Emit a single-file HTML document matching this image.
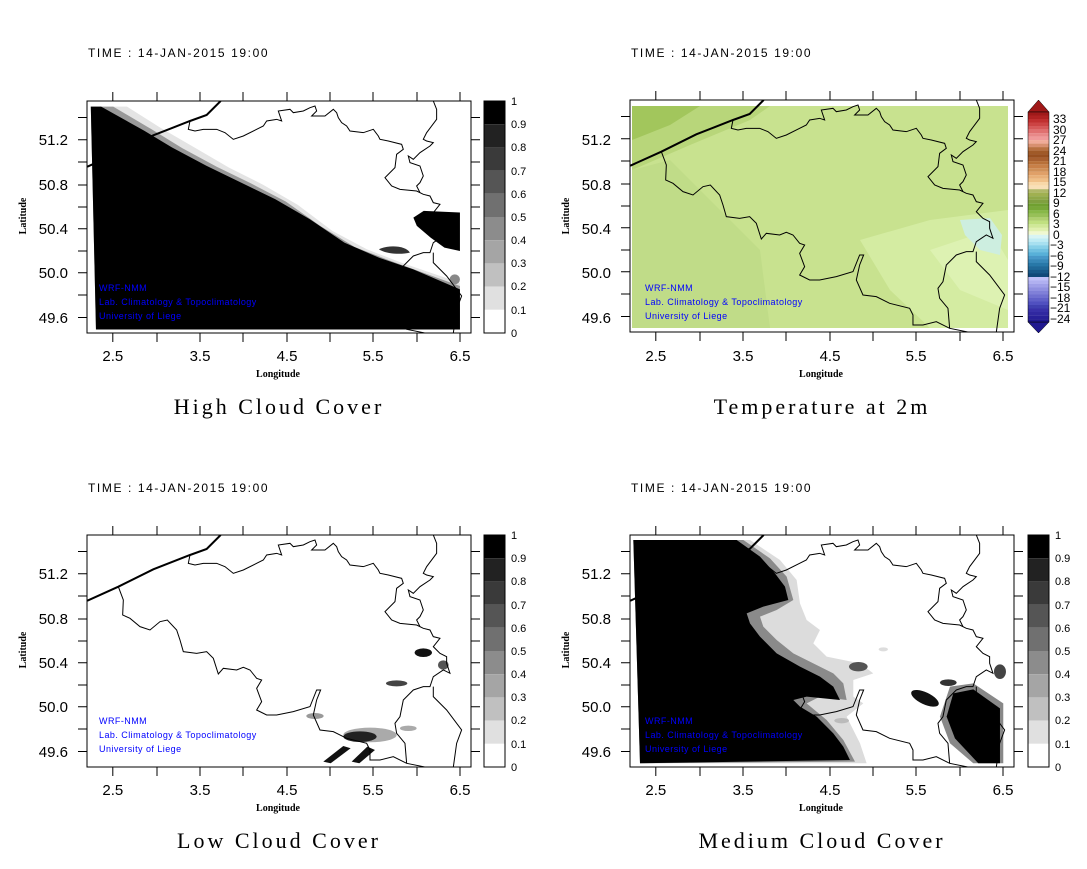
<!DOCTYPE html>
<html><head><meta charset="utf-8"><style>
html,body{margin:0;padding:0;background:#fff;width:1087px;height:869px;overflow:hidden}
svg{display:block}
.t{font-family:"Liberation Sans",sans-serif;font-size:12px;fill:#000;letter-spacing:1.6px}
.tk{font-family:"Liberation Sans",sans-serif;font-size:15px;fill:#000}
.ax{font-family:"Liberation Serif",serif;font-size:10px;font-weight:bold;fill:#000}
.ti{font-family:"Liberation Serif",serif;font-size:22px;fill:#000;letter-spacing:3px}
.bl{font-family:"Liberation Sans",sans-serif;font-size:9px;fill:#0000ff;letter-spacing:0.45px}
.cb{font-family:"Liberation Sans",sans-serif;font-size:11px;fill:#000}
.b{fill:none;stroke:#000;stroke-width:1;vector-effect:non-scaling-stroke}
.c{fill:none;stroke:#000;stroke-width:2;vector-effect:non-scaling-stroke}
</style></head><body>
<svg width="1087" height="869" viewBox="0 0 1087 869" xmlns="http://www.w3.org/2000/svg">
<defs>
<clipPath id="box"><rect x="0" y="0" width="384" height="232"/></clipPath>
<g id="borders">
<g transform="translate(-7,-5) scale(0.3333)">
<path class="c" d="M22,212 L115,170 L220,118 L330,75 L380,57 L422,15"/>
<path class="b" d="M115,170 L130,210 L128,255 L150,265 L180,290 L210,300 L240,275 L262,270 L290,300 L300,330 L310,365 L350,370 L380,365 L400,385 L415,432 L430,415 L470,420 L490,412 L510,420 L530,445 L545,450 L530,475 L545,515 L530,540 L560,555 L590,555 L640,545 L690,530 L710,480 L722,480 L710,510 L700,555 L720,600 L760,605 L800,625 L860,640 L870,660 L870,690 L900,690 L940,680 L980,700 L1040,712"/>
<path class="b" d="M330,75 L325,100 L345,105 L370,100 L410,100 L435,110 L460,130 L490,120 L530,100 L550,90 L560,75 L590,70 L605,75 L595,45 L630,40 L640,50 L670,45 L690,35 L705,30 L710,45 L695,60 L735,60 L760,40 L770,50 L775,65 L785,80 L800,90 L810,105 L850,110 L880,100 L895,120 L900,130 L925,135 L965,145 L970,160 L950,175 L945,215 L920,240 L915,245 L935,270 L960,280 L1010,285 L1030,295 L1050,300 L1060,320 L1080,325 L1060,350 L1080,370 L1100,380 L1100,400 L1110,430 L1090,420 L1060,440 L1050,470 L1030,470 L1000,480 L970,510 L960,560 L945,580 L950,610 L975,640 L980,700"/>
<path class="b" d="M1060,470 L1060,500 L1100,540 L1145,600 L1130,640 L1120,712"/>
<path class="b" d="M1020,290 L1010,270 L1020,260 L1030,240 L1020,210 L990,200 L985,180 L1000,190 L1020,170 L1050,150 L1060,140 L1040,135 L1030,130 L1040,110 L1070,70 L1070,40 L1060,15"/>
</g></g>
<g id="axes">
<rect x="0" y="0" width="384" height="232" fill="none" stroke="#000" stroke-width="1"/>
<path stroke="#000" stroke-width="1" d="M-9,16.5H0M-9,38.7H0M-9,61H0M-9,84H0M-9,106H0M-9,127.8H0M-9,150H0M-9,171.8H0M-9,194H0M-9,216.5H0
M384,16.5H393M384,38.7H393M384,61H393M384,84H393M384,106H393M384,127.8H393M384,150H393M384,171.8H393M384,194H393M384,216.5H393
M25.8,-9V0M70,-9V0M113,-9V0M156,-9V0M200,-9V0M243,-9V0M286,-9V0M330,-9V0M373,-9V0
M25.8,232V241M70,232V241M113,232V241M156,232V241M200,232V241M243,232V241M286,232V241M330,232V241M373,232V241"/>
</g>
<g id="gbar">
<rect x="397" y="0" width="21" height="23.2" fill="#000"/>
<rect x="397" y="23.2" width="21" height="23.2" fill="#222"/>
<rect x="397" y="46.4" width="21" height="23.2" fill="#3a3a3a"/>
<rect x="397" y="69.6" width="21" height="23.2" fill="#555"/>
<rect x="397" y="92.8" width="21" height="23.2" fill="#707070"/>
<rect x="397" y="116" width="21" height="23.2" fill="#8c8c8c"/>
<rect x="397" y="139.2" width="21" height="23.2" fill="#a5a5a5"/>
<rect x="397" y="162.4" width="21" height="23.2" fill="#c0c0c0"/>
<rect x="397" y="185.6" width="21" height="23.2" fill="#e0e0e0"/>
<rect x="397" y="208.8" width="21" height="23.2" fill="#fff"/>
<rect x="397" y="0" width="21" height="232" fill="none" stroke="#000"/>
</g>
</defs>

<!-- PANEL 1 -->
<g transform="translate(87,101)">
<g clip-path="url(#box)">
<g transform="scale(0.345,0.334) translate(-254,-211)">
<path fill="#e4e4e4" d="M265,228 L370,228 L465,290 L565,350 L665,410 L765,462 L865,522 L965,600 L1065,655 L1165,695 L1335,755 L1335,895 L280,895 Z"/>
<path fill="#999" d="M265,228 L330,228 L440,295 L530,352 L630,408 L730,458 L830,512 L930,585 L1030,648 L1130,688 L1335,765 L1335,895 L280,895 Z"/>
<path fill="#000" d="M265,228 L295,228 L420,300 L500,350 L600,405 L700,455 L800,505 L900,565 L1000,635 L1100,680 L1200,715 L1335,775 L1335,895 L280,895 Z"/>
<path fill="#000" d="M1200,560 L1230,540 L1335,545 L1335,660 L1290,650 L1250,620 L1210,585 Z"/>
<path fill="#333" d="M1100,655 C1130,640 1180,645 1190,665 C1160,672 1120,668 1100,655 Z"/>
<ellipse cx="1320" cy="745" rx="15" ry="15" fill="#888"/>
</g>
<use href="#borders"/>
</g>
<use href="#axes"/>
<use href="#gbar"/>
<text class="t" x="1" y="-44">TIME : 14-JAN-2015 19:00</text>
<text class="tk" x="-19" y="44" text-anchor="end">51.2</text>
<text class="tk" x="-19" y="89" text-anchor="end">50.8</text>
<text class="tk" x="-19" y="133" text-anchor="end">50.4</text>
<text class="tk" x="-19" y="177" text-anchor="end">50.0</text>
<text class="tk" x="-19" y="222" text-anchor="end">49.6</text>
<text class="tk" x="25.8" y="260" text-anchor="middle">2.5</text>
<text class="tk" x="113" y="260" text-anchor="middle">3.5</text>
<text class="tk" x="200" y="260" text-anchor="middle">4.5</text>
<text class="tk" x="286" y="260" text-anchor="middle">5.5</text>
<text class="tk" x="373" y="260" text-anchor="middle">6.5</text>
<text class="ax" x="191" y="276" text-anchor="middle">Longitude</text>
<text class="ax" transform="translate(-61,115) rotate(-90)" text-anchor="middle">Latitude</text>
<text class="ti" x="192" y="313" text-anchor="middle">High Cloud Cover</text>
<text class="bl" x="12" y="190">WRF-NMM</text>
<text class="bl" x="12" y="204">Lab. Climatology &amp; Topoclimatology</text>
<text class="bl" x="12" y="218">University of Liege</text>
<g class="cb"><text x="424" y="4">1</text><text x="424" y="27">0.9</text><text x="424" y="50">0.8</text><text x="424" y="74">0.7</text><text x="424" y="97">0.6</text><text x="424" y="120">0.5</text><text x="424" y="143">0.4</text><text x="424" y="166">0.3</text><text x="424" y="189">0.2</text><text x="424" y="213">0.1</text><text x="424" y="236">0</text></g>
</g>

<!-- PANEL 2 -->
<g transform="translate(630,100)">
<g clip-path="url(#box)">
<rect x="2" y="6" width="376" height="222" fill="#c8e28f"/>
<path fill="#b8d67a" d="M2,6 L140,6 L120,20 L60,45 L2,70 Z"/>
<path fill="#a2c65c" d="M2,6 L70,6 L40,25 L2,40 Z"/>
<path fill="#c0dc88" d="M2,70 L40,60 L90,110 L130,150 L140,228 L2,228 Z"/>
<path fill="#d4eca2" d="M230,140 L300,120 L378,110 L378,228 L300,228 L260,190 Z"/>
<path fill="#ddf2b2" d="M300,150 L360,130 L378,160 L378,210 L330,190 Z"/>
<path fill="#cdeee0" d="M330,120 L360,118 L372,135 L370,155 L350,150 L335,135 Z"/>
<use href="#borders"/>
</g>
<use href="#axes"/>
<path fill="#a01818" stroke="#000" stroke-width="0.5" d="M398,12 L408.5,0 L419,12 Z"/>
<path fill="#201890" stroke="#000" stroke-width="0.5" d="M398,222 L408.5,233 L419,222 Z"/>
<g>
<rect x="398" y="12.0" width="21" height="3.6" fill="#a01a1a"/><rect x="398" y="15.5" width="21" height="3.6" fill="#b02222"/>
<rect x="398" y="19.0" width="21" height="3.6" fill="#c03030"/><rect x="398" y="22.5" width="21" height="3.6" fill="#cc4444"/><rect x="398" y="26.0" width="21" height="3.6" fill="#d65a5a"/>
<rect x="398" y="29.6" width="21" height="3.6" fill="#e07070"/><rect x="398" y="33.1" width="21" height="3.6" fill="#e88888"/><rect x="398" y="36.6" width="21" height="3.6" fill="#f09a9a"/>
<rect x="398" y="40.1" width="21" height="3.6" fill="#f0ab98"/><rect x="398" y="43.6" width="21" height="3.6" fill="#d89070"/><rect x="398" y="47.1" width="21" height="3.6" fill="#b87040"/>
<rect x="398" y="50.6" width="21" height="3.6" fill="#a05a28"/><rect x="398" y="54.1" width="21" height="3.6" fill="#985020"/><rect x="398" y="57.6" width="21" height="3.6" fill="#a86030"/>
<rect x="398" y="61.1" width="21" height="3.6" fill="#b87038"/><rect x="398" y="64.7" width="21" height="3.6" fill="#c88048"/><rect x="398" y="68.2" width="21" height="3.6" fill="#d09058"/>
<rect x="398" y="71.7" width="21" height="3.6" fill="#e0a068"/><rect x="398" y="75.2" width="21" height="3.6" fill="#e8b078"/><rect x="398" y="78.7" width="21" height="3.6" fill="#f0c088"/>
<rect x="398" y="82.2" width="21" height="3.6" fill="#f8d8a8"/><rect x="398" y="85.7" width="21" height="3.6" fill="#f8e0b8"/><rect x="398" y="89.2" width="21" height="3.6" fill="#b0b868"/>
<rect x="398" y="92.7" width="21" height="3.6" fill="#a0b050"/><rect x="398" y="96.2" width="21" height="3.6" fill="#90a848"/><rect x="398" y="99.7" width="21" height="3.6" fill="#80a040"/>
<rect x="398" y="103.3" width="21" height="3.6" fill="#70a030"/><rect x="398" y="106.8" width="21" height="3.6" fill="#78a838"/><rect x="398" y="110.3" width="21" height="3.6" fill="#88b848"/>
<rect x="398" y="113.8" width="21" height="3.6" fill="#98c058"/><rect x="398" y="117.3" width="21" height="3.6" fill="#b0d070"/><rect x="398" y="120.8" width="21" height="3.6" fill="#c0e080"/>
<rect x="398" y="124.3" width="21" height="3.6" fill="#d0e898"/><rect x="398" y="127.8" width="21" height="3.6" fill="#e0f0b0"/><rect x="398" y="131.3" width="21" height="3.6" fill="#f0f8d0"/>
<rect x="398" y="134.8" width="21" height="3.6" fill="#d8f4f4"/><rect x="398" y="138.4" width="21" height="3.6" fill="#c0ecf4"/><rect x="398" y="141.9" width="21" height="3.6" fill="#a8e0f0"/>
<rect x="398" y="145.4" width="21" height="3.6" fill="#88d0e8"/><rect x="398" y="148.9" width="21" height="3.6" fill="#70c0e0"/><rect x="398" y="152.4" width="21" height="3.6" fill="#58b0d8"/>
<rect x="398" y="155.9" width="21" height="3.6" fill="#4898c8"/><rect x="398" y="159.4" width="21" height="3.6" fill="#3888b8"/><rect x="398" y="162.9" width="21" height="3.6" fill="#2878a8"/>
<rect x="398" y="166.4" width="21" height="3.6" fill="#206898"/><rect x="398" y="169.9" width="21" height="3.6" fill="#185888"/><rect x="398" y="173.4" width="21" height="3.6" fill="#104878"/>
<rect x="398" y="177.0" width="21" height="3.6" fill="#c0c0f8"/><rect x="398" y="180.5" width="21" height="3.6" fill="#b0b0f0"/><rect x="398" y="184.0" width="21" height="3.6" fill="#a0a0e8"/>
<rect x="398" y="187.5" width="21" height="3.6" fill="#9090e0"/><rect x="398" y="191.0" width="21" height="3.6" fill="#8080d8"/><rect x="398" y="194.5" width="21" height="3.6" fill="#7070d0"/>
<rect x="398" y="198.0" width="21" height="3.6" fill="#6060c8"/><rect x="398" y="201.5" width="21" height="3.6" fill="#5050c0"/><rect x="398" y="205.0" width="21" height="3.6" fill="#4040b0"/>
<rect x="398" y="208.5" width="21" height="3.6" fill="#3830a8"/><rect x="398" y="212.0" width="21" height="3.6" fill="#3028a0"/><rect x="398" y="215.6" width="21" height="3.6" fill="#282098"/>
<rect x="398" y="219.1" width="21" height="2.9" fill="#201890"/>
<rect x="398" y="12" width="21" height="210" fill="none" stroke="#000" stroke-width="0.5"/>
</g>
<g class="cb" style="font-size:12px">
<text x="423" y="23">33</text><text x="423" y="34">30</text><text x="423" y="44">27</text><text x="423" y="55">24</text><text x="423" y="65">21</text><text x="423" y="76">18</text><text x="423" y="86">15</text><text x="423" y="97">12</text><text x="423" y="107">9</text><text x="423" y="118">6</text><text x="423" y="128">3</text><text x="423" y="139">0</text><text x="420" y="149">−3</text><text x="420" y="160">−6</text><text x="420" y="170">−9</text><text x="420" y="181">−12</text><text x="420" y="191">−15</text><text x="420" y="202">−18</text><text x="420" y="212">−21</text><text x="420" y="223">−24</text>
</g>
<text class="t" x="1" y="-43">TIME : 14-JAN-2015 19:00</text>
<text class="tk" x="-19" y="45" text-anchor="end">51.2</text>
<text class="tk" x="-19" y="90" text-anchor="end">50.8</text>
<text class="tk" x="-19" y="134" text-anchor="end">50.4</text>
<text class="tk" x="-19" y="178" text-anchor="end">50.0</text>
<text class="tk" x="-19" y="223" text-anchor="end">49.6</text>
<text class="tk" x="25.8" y="261" text-anchor="middle">2.5</text>
<text class="tk" x="113" y="261" text-anchor="middle">3.5</text>
<text class="tk" x="200" y="261" text-anchor="middle">4.5</text>
<text class="tk" x="286" y="261" text-anchor="middle">5.5</text>
<text class="tk" x="373" y="261" text-anchor="middle">6.5</text>
<text class="ax" x="191" y="277" text-anchor="middle">Longitude</text>
<text class="ax" transform="translate(-61,116) rotate(-90)" text-anchor="middle">Latitude</text>
<text class="ti" x="192" y="314" text-anchor="middle">Temperature at 2m</text>
<text class="bl" x="15" y="191">WRF-NMM</text>
<text class="bl" x="15" y="205">Lab. Climatology &amp; Topoclimatology</text>
<text class="bl" x="15" y="219">University of Liege</text>
</g>

<!-- PANEL 3 -->
<g transform="translate(87,535)">
<g clip-path="url(#box)">
<g transform="translate(-7,-5) scale(0.3333)">
<ellipse cx="1030" cy="368" rx="26" ry="13" fill="#111"/>
<ellipse cx="1090" cy="405" rx="16" ry="14" fill="#555"/>
<ellipse cx="950" cy="460" rx="32" ry="9" fill="#444"/>
<ellipse cx="705" cy="558" rx="26" ry="9" fill="#999"/>
<ellipse cx="985" cy="595" rx="25" ry="8" fill="#aaa"/>
<ellipse cx="870" cy="615" rx="80" ry="22" fill="#aaa"/>
<ellipse cx="840" cy="620" rx="50" ry="16" fill="#222"/>
<path fill="#111" d="M730,695 L790,648 L812,655 L752,700 Z"/>
<path fill="#111" d="M815,695 L862,650 L885,660 L838,700 Z"/>
</g>
<use href="#borders"/>
</g>
<use href="#axes"/>
<use href="#gbar"/>
<text class="t" x="1" y="-43">TIME : 14-JAN-2015 19:00</text>
<text class="tk" x="-19" y="44" text-anchor="end">51.2</text>
<text class="tk" x="-19" y="89" text-anchor="end">50.8</text>
<text class="tk" x="-19" y="133" text-anchor="end">50.4</text>
<text class="tk" x="-19" y="177" text-anchor="end">50.0</text>
<text class="tk" x="-19" y="222" text-anchor="end">49.6</text>
<text class="tk" x="25.8" y="260" text-anchor="middle">2.5</text>
<text class="tk" x="113" y="260" text-anchor="middle">3.5</text>
<text class="tk" x="200" y="260" text-anchor="middle">4.5</text>
<text class="tk" x="286" y="260" text-anchor="middle">5.5</text>
<text class="tk" x="373" y="260" text-anchor="middle">6.5</text>
<text class="ax" x="191" y="276" text-anchor="middle">Longitude</text>
<text class="ax" transform="translate(-61,115) rotate(-90)" text-anchor="middle">Latitude</text>
<text class="ti" x="192" y="313" text-anchor="middle">Low Cloud Cover</text>
<text class="bl" x="12" y="189">WRF-NMM</text>
<text class="bl" x="12" y="203">Lab. Climatology &amp; Topoclimatology</text>
<text class="bl" x="12" y="217">University of Liege</text>
<g class="cb"><text x="424" y="4">1</text><text x="424" y="27">0.9</text><text x="424" y="50">0.8</text><text x="424" y="74">0.7</text><text x="424" y="97">0.6</text><text x="424" y="120">0.5</text><text x="424" y="143">0.4</text><text x="424" y="166">0.3</text><text x="424" y="189">0.2</text><text x="424" y="213">0.1</text><text x="424" y="236">0</text></g>
</g>

<!-- PANEL 4 -->
<g transform="translate(630,535)">
<g clip-path="url(#box)">
<g transform="translate(-10,-5) scale(0.3333)">
<path fill="#dcdcdc" d="M40,30 L390,30 L480,90 L530,150 L540,220 L560,270 L600,300 L580,340 L620,380 L720,400 L760,430 L700,450 L700,500 L730,520 L680,560 L720,640 L740,700 L60,700 Z"/>
<path fill="#8a8a8a" d="M40,30 L370,30 L450,85 L500,140 L520,210 L470,240 L420,260 L430,290 L470,330 L520,370 L580,400 L640,430 L670,460 L680,510 L600,500 L560,520 L620,570 L670,630 L705,695 L60,700 Z"/>
<path fill="#000" d="M40,30 L350,30 L420,80 L465,130 L495,170 L505,210 L430,230 L380,250 L390,280 L420,320 L470,370 L540,410 L600,440 L640,470 L660,510 L560,500 L520,510 L540,530 L590,560 L640,610 L670,650 L690,690 L60,700 Z"/>
<path fill="#888" d="M960,560 L990,470 L1060,460 L1150,520 L1150,700 L1060,700 L990,640 Z"/>
<path fill="#000" d="M980,560 L1000,490 L1060,478 L1140,535 L1140,700 L1075,700 L1005,625 Z"/>
<ellipse cx="915" cy="505" rx="45" ry="18" fill="#111" transform="rotate(25 915 505)"/>
<ellipse cx="985" cy="458" rx="25" ry="10" fill="#333"/>
<ellipse cx="715" cy="410" rx="28" ry="14" fill="#555"/>
<ellipse cx="1140" cy="425" rx="18" ry="22" fill="#444"/>
<ellipse cx="665" cy="572" rx="22" ry="8" fill="#bbb"/>
<ellipse cx="790" cy="358" rx="14" ry="6" fill="#ddd"/>
</g>
<use href="#borders"/>
</g>
<use href="#axes"/>
<use href="#gbar" transform="translate(1,0)"/>
<text class="t" x="1" y="-43">TIME : 14-JAN-2015 19:00</text>
<text class="tk" x="-19" y="44" text-anchor="end">51.2</text>
<text class="tk" x="-19" y="89" text-anchor="end">50.8</text>
<text class="tk" x="-19" y="133" text-anchor="end">50.4</text>
<text class="tk" x="-19" y="177" text-anchor="end">50.0</text>
<text class="tk" x="-19" y="222" text-anchor="end">49.6</text>
<text class="tk" x="25.8" y="260" text-anchor="middle">2.5</text>
<text class="tk" x="113" y="260" text-anchor="middle">3.5</text>
<text class="tk" x="200" y="260" text-anchor="middle">4.5</text>
<text class="tk" x="286" y="260" text-anchor="middle">5.5</text>
<text class="tk" x="373" y="260" text-anchor="middle">6.5</text>
<text class="ax" x="191" y="276" text-anchor="middle">Longitude</text>
<text class="ax" transform="translate(-61,115) rotate(-90)" text-anchor="middle">Latitude</text>
<text class="ti" x="192" y="313" text-anchor="middle">Medium Cloud Cover</text>
<text class="bl" x="15" y="189">WRF-NMM</text>
<text class="bl" x="15" y="203">Lab. Climatology &amp; Topoclimatology</text>
<text class="bl" x="15" y="217">University of Liege</text>
<g class="cb"><text x="425" y="4">1</text><text x="425" y="27">0.9</text><text x="425" y="50">0.8</text><text x="425" y="74">0.7</text><text x="425" y="97">0.6</text><text x="425" y="120">0.5</text><text x="425" y="143">0.4</text><text x="425" y="166">0.3</text><text x="425" y="189">0.2</text><text x="425" y="213">0.1</text><text x="425" y="236">0</text></g>
</g>
</svg>
</body></html>
